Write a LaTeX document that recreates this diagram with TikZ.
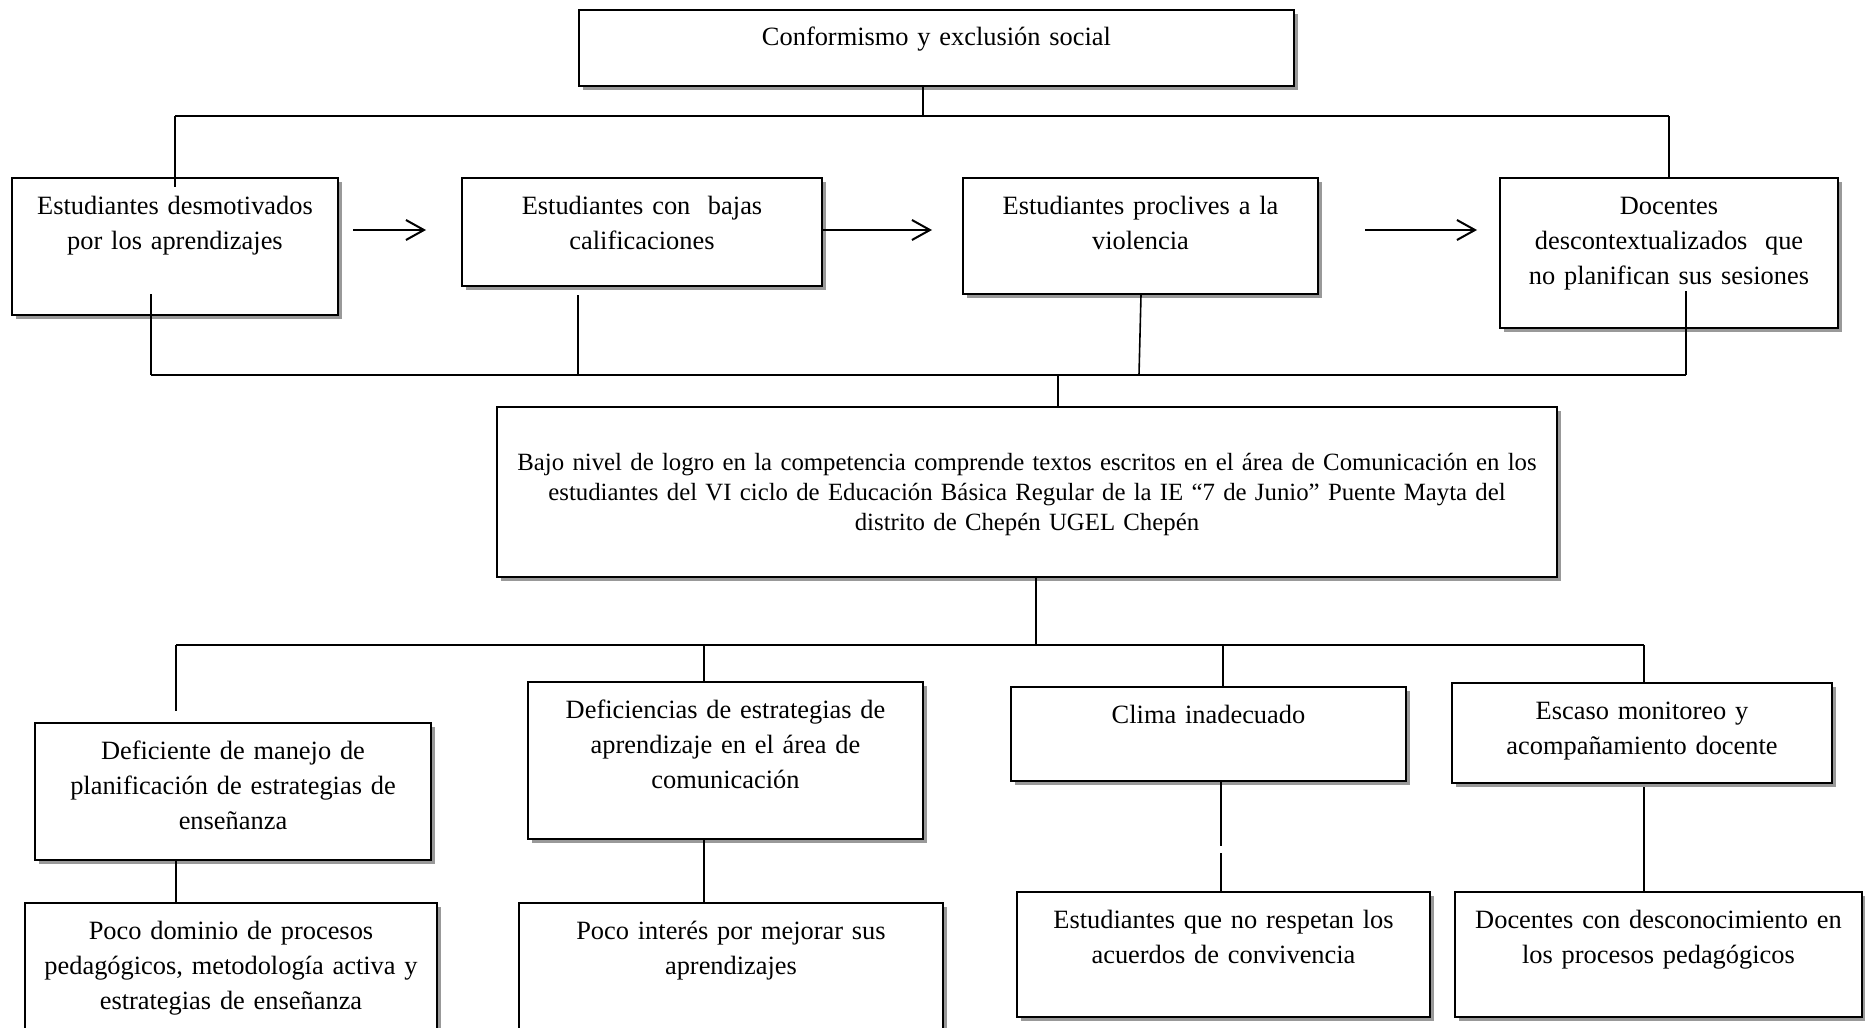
\documentclass[tikz,border=0pt]{standalone}
\usepackage{fontspec}
\setmainfont{Liberation Serif}
\usetikzlibrary{arrows.meta,fit,shadows}

\begin{document}
\begin{tikzpicture}[x=0.5pt, y=-0.5pt,
    caja/.style={draw, line width=1pt, fill=white, inner sep=0pt,
      drop shadow={shadow xshift=2pt, shadow yshift=-2pt, fill=black!40, opacity=1}},
    texto/.style={anchor=base, align=center, inner sep=0pt, text width=#1,
      font=\fontsize{13.2}{17.5}\selectfont},
    linea/.style={line width=0.8pt},
    flecha/.style={line width=1pt, -{Straight Barb[length=9pt, width=10pt]}}]

    \useasboundingbox (0,0) rectangle (1865,1028);

    % Consecuencia final
    \node[caja, fit={(579,10) (1294,86)}] (conf) {};
    \node[texto=340pt] (tconf) at ([yshift=-18.5pt]conf.north) {Conformismo y exclusión social};

    % Efectos
    \node[caja, fit={(12,178) (338,315)}] (ef1) {};
    \node[caja, fit={(462,178) (822,286)}] (ef2) {};
    \node[caja, fit={(963,178) (1318,294)}] (ef3) {};
    \node[caja, fit={(1500,178) (1838,328)}] (ef4) {};
    \node[texto=160pt] (tef1) at ([yshift=-18.5pt]ef1.north) {Estudiantes desmotivados\\por los aprendizajes};
    \node[texto=175pt] (tef2) at ([yshift=-18.5pt]ef2.north) {Estudiantes con\ \ bajas\\calificaciones};
    \node[texto=172pt] (tef3) at ([yshift=-18.5pt]ef3.north) {Estudiantes proclives a la\\violencia};
    \node[texto=166pt] (tef4) at ([yshift=-18.5pt]ef4.north) {Docentes\\descontextualizados\ \ que\\no planifican sus sesiones};

    % Problema central
    \node[caja, fit={(497,407) (1557,577)}] (prob) {};
    \node[texto=545pt, font=\fontsize{12.4}{15}\selectfont] (tprob) at ([yshift=-32pt]prob.north)
      {Bajo nivel de logro en la competencia comprende textos escritos en el área de Comunicación en los\\
       estudiantes del VI ciclo de Educación Básica Regular de la IE “7 de Junio” Puente Mayta del\\
       distrito de Chepén UGEL Chepén};

    % Causas
    \node[caja, fit={(35,723) (431,860)}] (ca1) {};
    \node[caja, fit={(528,682) (923,839)}] (ca2) {};
    \node[caja, fit={(1011,687) (1406,781)}] (ca3) {};
    \node[caja, fit={(1452,683) (1832,783)}] (ca4) {};
    \node[texto=196pt] (tca1) at ([yshift=-18.5pt]ca1.north) {Deficiente de manejo de\\planificación de estrategias de\\enseñanza};
    \node[texto=196pt] (tca2) at ([yshift=-18.5pt]ca2.north) {Deficiencias de estrategias de\\aprendizaje en el área de\\comunicación};
    \node[texto=196pt] (tca3) at ([yshift=-18.5pt]ca3.north) {Clima inadecuado};
    \node[texto=188pt] (tca4) at ([yshift=-18.5pt]ca4.north) {Escaso monitoreo y\\acompañamiento docente};

    % Subcausas
    \node[caja, fit={(25,903) (437,1045)}] (sc1) {};
    \node[caja, fit={(519,903) (943,1045)}] (sc2) {};
    \node[caja, fit={(1017,892) (1430,1017)}] (sc3) {};
    \node[caja, fit={(1455,892) (1862,1017)}] (sc4) {};
    \node[texto=204pt] (tsc1) at ([yshift=-18.5pt]sc1.north) {Poco dominio de procesos\\pedagógicos, metodología activa y\\estrategias de enseñanza};
    \node[texto=210pt] (tsc2) at ([yshift=-18.5pt]sc2.north) {Poco interés por mejorar sus\\aprendizajes};
    \node[texto=204pt] (tsc3) at ([yshift=-18.5pt]sc3.north) {Estudiantes que no respetan los\\acuerdos de convivencia};
    \node[texto=202pt] (tsc4) at ([yshift=-18.5pt]sc4.north) {Docentes con desconocimiento en\\los procesos pedagógicos};

    % Conexion superior
    \coordinate (s0) at (923,116);
    \draw[linea] (conf.south -| s0) -- (s0);
    \draw[linea] (s0 -| ef1.north) -- (s0 -| ef4.north);
    \draw[linea] (s0 -| ef1.north) -- ([yshift=-5pt]ef1.north);
    \draw[linea] (s0 -| ef4.north) -- (ef4.north);

    % Flechas entre efectos
    \coordinate (fy) at (0,230);
    \draw[flecha] ([xshift=7pt]ef1.east |- fy) -- ([xshift=-17.5pt]ef2.west |- fy);
    \draw[flecha] (ef2.east |- fy) -- ([xshift=-15pt]ef3.west |- fy);
    \draw[flecha] ([xshift=23pt]ef3.east |- fy) -- ([xshift=-11pt]ef4.west |- fy);

    % Union de efectos con el problema
    \coordinate (j1) at (151,375);
    \coordinate (j2) at (578,375);
    \coordinate (j3) at (1139,375);
    \coordinate (j4) at (1686,375);
    \coordinate (jc) at (1058,375);
    \draw[linea] (j1) -- (j4);
    \draw[linea] ([yshift=11pt]ef1.south -| j1) -- (j1);
    \draw[linea] ([yshift=-4pt]ef2.south -| j2) -- (j2);
    \draw[linea] ([xshift=1pt]ef3.south -| j3) -- (j3);
    \draw[linea] ([yshift=19pt]ef4.south -| j4) -- (j4);
    \draw[linea] (jc) -- (prob.north -| jc);

    % Union del problema con las causas
    \coordinate (k0) at (1036,645);
    \coordinate (k1) at (176,645);
    \coordinate (k2) at (704,645);
    \coordinate (k3) at (1223,645);
    \coordinate (k4) at (1644,645);
    \draw[linea] (prob.south -| k0) -- (k0);
    \draw[linea] (k1) -- (k4);
    \draw[linea] (k1) -- ([yshift=5.5pt]ca1.north -| k1);
    \draw[linea] (k2) -- (ca2.north -| k2);
    \draw[linea] (k3) -- (ca3.north -| k3);
    \draw[linea] (k4) -- (ca4.north -| k4);

    % Causas y subcausas
    \draw[linea] (ca1.south -| k1) -- (sc1.north -| k1);
    \draw[linea] (ca2.south -| k2) -- (sc2.north -| k2);
    \draw[linea, dash pattern=on 32pt off 3.5pt on 60pt] ([xshift=-1pt]ca3.south -| k3) -- ([xshift=-1pt]sc3.north -| k3);
    \draw[linea] ([yshift=-1.5pt]ca4.south -| k4) -- (sc4.north -| k4);

\end{tikzpicture}
\end{document}
